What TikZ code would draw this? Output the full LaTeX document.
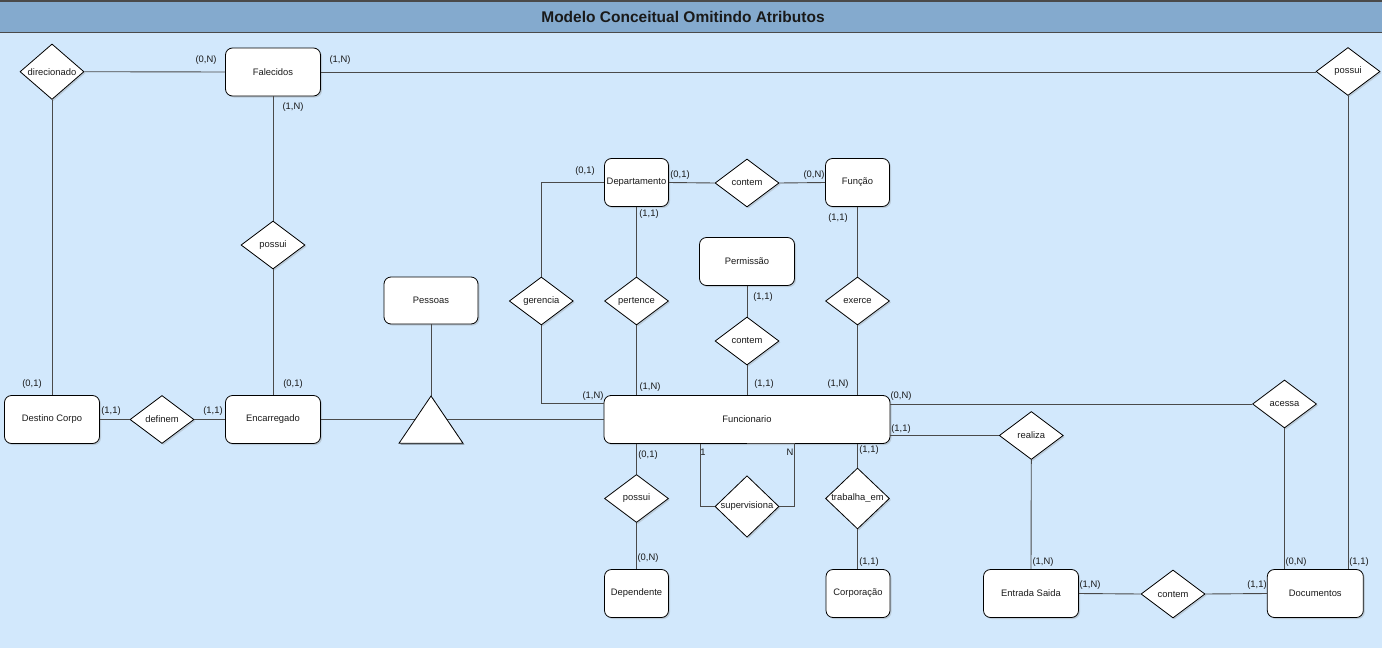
\documentclass[tikz,border=0pt]{standalone}
\usepackage{fontspec}
\setmainfont{Liberation Sans}
\usetikzlibrary{shapes.geometric,shadows}
\definecolor{bodybg}{HTML}{D2E8FC}
\definecolor{barbg}{HTML}{84AACE}
\definecolor{edgecol}{HTML}{4A4A4A}
\definecolor{txtcol}{HTML}{1A1A1A}
\begin{document}
\begin{tikzpicture}[x=1pt,y=-1pt,
  font=\fontsize{9.4}{11}\selectfont, text=txtcol,
  shad/.style={drop shadow={shadow xshift=1.5pt,shadow yshift=-1.5pt,opacity=0.28}},
  ent/.style={draw=black, fill=white, rounded corners=7pt, minimum width=95pt,
    minimum height=48pt, inner sep=0pt, line width=0.8pt, shad},
  rel/.style={diamond, draw=black, fill=white, minimum width=64pt,
    minimum height=48pt, inner sep=0pt, line width=0.8pt, shad},
  lnk/.style={draw=edgecol, line width=0.9pt},
  card/.style={inner sep=0pt}
]
\useasboundingbox (0,0) rectangle (1382,648);
\fill[bodybg] (0,0) rectangle (1382,648);
\fill[barbg] (0,0) rectangle (1382,32);
\draw[edgecol, line width=1.6pt] (0,0.8) -- (1382,0.8);
\draw[edgecol, line width=1pt] (0,32) -- (1382,32);
\node (title) at (683,17) {\fontsize{15.5}{18}\selectfont\bfseries Modelo Conceitual Omitindo Atributos};

% entities
\node[ent] (fal) at (273,72) {Falecidos};
\node[ent] (dest) at (52,419.5) {Destino Corpo};
\node[ent] (enc) at (273,419.5) {Encarregado};
\node[ent, minimum width=94pt, minimum height=47pt] (pes) at (431,300.5) {Pessoas};
\node[ent, minimum width=64pt] (dep) at (636.5,182.5) {Departamento};
\node[ent, minimum width=64pt] (fun) at (857.5,182.5) {Função};
\node[ent] (perm) at (747,261.5) {Permissão};
\node[ent, minimum width=286pt] (func) at (747,419.5) {Funcionario};
\node[ent, minimum width=64pt] (depd) at (636.5,593.5) {Dependente};
\node[ent, minimum width=64pt] (corp) at (858,593.5) {Corporação};
\node[ent] (ent) at (1031,593.5) {Entrada Saida};
\node[ent, minimum width=96pt] (doc) at (1315.3,593.5) {Documentos};

% relationships
\node[rel] (dir) at (52,71.7) {direcionado};
\node[rel] (pos1) at (273,245) {possui};
\node[rel] (def) at (162,419.5) {definem};
\node[rel] (ger) at (541.3,301) {gerencia};
\node[rel] (per) at (636.5,301) {pertence};
\node[rel] (con1) at (747,183) {contem};
\node[rel] (con2) at (747,341) {contem};
\node[rel] (exe) at (857.5,301) {exerce};
\node[rel] (pos3) at (636.5,498.5) {possui};
\node[rel] (sup) at (747,506.5) {supervisiona};
\node[rel] (trab) at (857.5,498.5) {trabalha\_em};
\node[rel] (real) at (1031.3,435.5) {realiza};
\node[rel] (acs) at (1284.5,404) {acessa};
\node[rel] (con3) at (1173,594) {contem};
\node[rel] (pos2) at (1348,71.5) {possui};

% connectors
\draw[lnk] (dir.east) -- (fal.west);
\draw[lnk] (fal.east) -- (fal.east -| pos2.west);
\draw[lnk] (dir.south) -- (dest.north);
\draw[lnk] (fal.south) -- (pos1.north);
\draw[lnk] (pos1.south) -- (enc.north);
\draw[lnk] (dest.east) -- (def.west);
\draw[lnk] (def.east) -- (enc.west);
\draw[lnk] (enc.east) -- (func.west);
\draw[lnk] (pes.south) -- (431,396);
\draw[lnk] (dep.west) -| (ger.north);
\draw[lnk] (ger.south) |- ([yshift=-8.3pt]func.north west);
\draw[lnk] (dep.south) -- (per.north);
\draw[lnk] (per.south) -- (per.south |- func.north);
\draw[lnk] (dep.east) -- (con1.west);
\draw[lnk] (con1.east) -- (fun.west);
\draw[lnk] (fun.south) -- (exe.north);
\draw[lnk] (exe.south) -- (exe.south |- func.north);
\draw[lnk] (perm.south) -- (con2.north);
\draw[lnk] (con2.south) -- (func.north);
\draw[lnk] (acs.west -| func.east) -- (acs.west);
\draw[lnk] (acs.south) -- (acs.south |- doc.north);
\draw[lnk] (real.west -| func.east) -- (real.west);
\draw[lnk] (real.south) -- (ent.north);
\draw[lnk] (ent.east) -- (con3.west);
\draw[lnk] (con3.east) -- (doc.west);
\draw[lnk] (pos2.south) -- (pos2.south |- doc.north);
\draw[lnk] (pos3.north |- func.south) -- (pos3.north);
\draw[lnk] (pos3.south) -- (depd.north);
\draw[lnk] (trab.north |- func.south) -- (trab.north);
\draw[lnk] (trab.south) -- (trab.south |- corp.north);
\draw[lnk] ([xshift=-47pt]func.south) |- (sup.west);
\draw[lnk] (func.south) -- ([xshift=47pt]func.south) |- (sup.east);

% generalization triangle
\coordinate (triA) at (431,396);
\coordinate (triB) at (463,443.3);
\coordinate (triC) at (399,443.3);
\fill[black, opacity=0.28] ([shift={(1.5pt,-1.5pt)}]triA) -- ([shift={(1.5pt,-1.5pt)}]triB) -- ([shift={(1.5pt,-1.5pt)}]triC) -- cycle;
\draw[fill=white, draw=black, line width=0.8pt] (triA) -- (triB) -- (triC) -- cycle;

% cardinalities
\node[card] (l1) at (206,60) {(0,N)};
\node[card] (l2) at (340,60) {(1,N)};
\node[card] (l3) at (293,107) {(1,N)};
\node[card] (l4) at (32,384) {(0,1)};
\node[card] (l5) at (111,411) {(1,1)};
\node[card] (l6) at (213,411) {(1,1)};
\node[card] (l7) at (293,384) {(0,1)};
\node[card] (l8) at (585,171) {(0,1)};
\node[card] (l9) at (680,175) {(0,1)};
\node[card] (l10) at (814,175) {(0,N)};
\node[card] (l11) at (649,214) {(1,1)};
\node[card] (l12) at (838,218) {(1,1)};
\node[card] (l13) at (763,297) {(1,1)};
\node[card] (l14) at (764,384) {(1,1)};
\node[card] (l15) at (838,384) {(1,N)};
\node[card] (l16) at (650,387) {(1,N)};
\node[card] (l17) at (593,396) {(1,N)};
\node[card] (l18) at (901,396) {(0,N)};
\node[card] (l19) at (901,429) {(1,1)};
\node[card] (l20) at (648,455) {(0,1)};
\node[card] (l21) at (648,558) {(0,N)};
\node[card] (l22) at (703,452) {1};
\node[card] (l23) at (790,452) {N};
\node[card] (l24) at (869,450) {(1,1)};
\node[card] (l25) at (869,562) {(1,1)};
\node[card] (l26) at (1043,562) {(1,N)};
\node[card] (l27) at (1090,585) {(1,N)};
\node[card] (l28) at (1257,585) {(1,1)};
\node[card] (l29) at (1296,562) {(0,N)};
\node[card] (l30) at (1359,562) {(1,1)};
\end{tikzpicture}
\end{document}
